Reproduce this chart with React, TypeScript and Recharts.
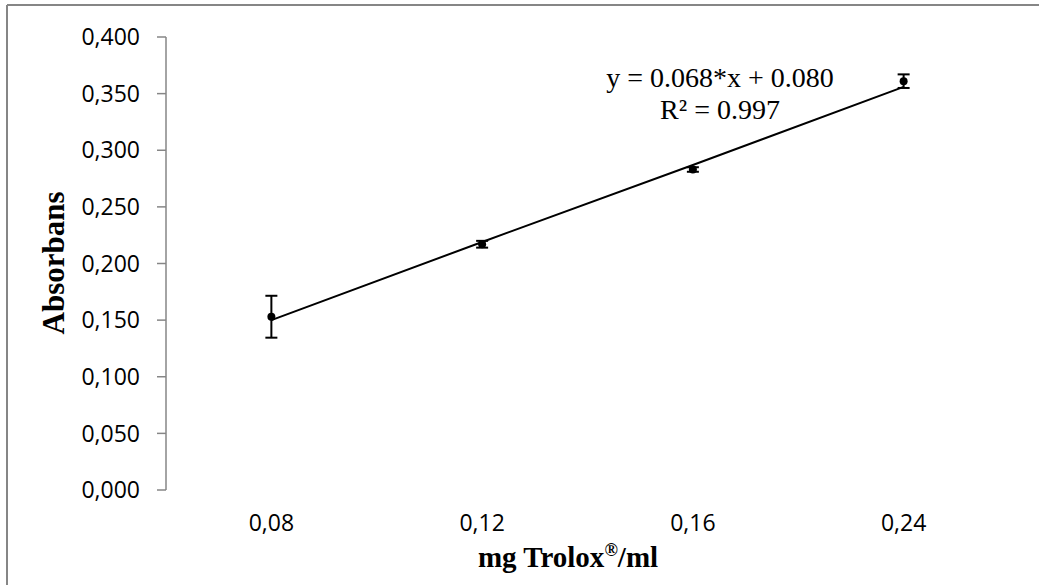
import React from "react";
import {
  ComposedChart,
  Line,
  Scatter,
  XAxis,
  YAxis,
  ErrorBar,
  Customized,
} from "recharts";

// values
const categories = ["0,08", "0,12", "0,16", "0,24"];
const absorbance = [0.153, 0.217, 0.283, 0.361];
const errors = [0.0185, 0.003, 0.002, 0.006];
const trend = [0.15, 0.219, 0.287, 0.356];
const yTicks = [0, 0.05, 0.1, 0.15, 0.2, 0.25, 0.3, 0.35, 0.4];
const equation = "y = 0.068*x + 0.080";
const rSquared = "R² = 0.997";

const AXIS = "#868686";
const SERIF = "'Liberation Serif', 'Times New Roman', serif";
const SANS = "'Open Sans', 'Noto Sans', sans-serif";

// category i sits in the middle of its band, bands are 0..4
const data = categories.map((cat, i) => ({
  pos: i + 0.5,
  cat,
  y: absorbance[i],
  err: errors[i],
  trend: trend[i],
}));

const Overlay = () => (
  <g>
    {/* frame of the chart area */}
    <line x1={7} y1={5} x2={1039} y2={5} stroke={AXIS} strokeWidth={2} />
    <line x1={7} y1={5} x2={7} y2={585} stroke={AXIS} strokeWidth={2} />
    <text x={720} y={87} textAnchor="middle" fontFamily={SERIF} fontSize={28} fill="#000">
      {equation}
    </text>
    <text x={720} y={119} textAnchor="middle" fontFamily={SERIF} fontSize={28} fill="#000">
      {rSquared}
    </text>
    <text
      transform="translate(64, 263) rotate(-90)"
      textAnchor="middle"
      fontFamily={SERIF}
      fontSize={31}
      fontWeight="bold"
      fill="#000"
    >
      Absorbans
    </text>
    <text x={568} y={567} textAnchor="middle" fontFamily={SERIF} fontSize={29} fontWeight="bold" fill="#000">
      mg Trolox
      <tspan fontSize={18} dy={-11}>®</tspan>
      <tspan dy={11}>/ml</tspan>
    </text>
  </g>
);

const Dot = (props: any) => <circle cx={props.cx} cy={props.cy} r={4} fill="#000" />;

export default function App() {
  return (
    <div style={{ position: "absolute", left: 0, top: 0, background: "#fff" }}>
      <ComposedChart
        width={1039}
        height={585}
        data={data}
        margin={{ top: 37, right: 30, left: 0, bottom: 0 }}
      >
        <XAxis
          xAxisId="marks"
          type="number"
          dataKey="pos"
          domain={[0, 4]}
          ticks={[0, 1, 2, 3, 4]}
          tickFormatter={() => ""}
          height={0}
          tickSize={9}
          axisLine={{ stroke: AXIS, strokeWidth: 1.5 }}
          tickLine={{ stroke: AXIS, strokeWidth: 1.5 }}
        />
        <XAxis
          xAxisId="labels"
          type="number"
          dataKey="pos"
          domain={[0, 4]}
          ticks={data.map((d) => d.pos)}
          tickFormatter={(v: number) => categories[Math.floor(v)]}
          axisLine={false}
          tickLine={false}
          tickSize={0}
          tickMargin={25}
          height={95}
          tick={{ fill: "#000", fontSize: 23, fontFamily: SANS }}
        />
        <YAxis
          type="number"
          domain={[0, 0.4]}
          ticks={yTicks}
          tickFormatter={(v: number) => v.toFixed(3).replace(".", ",")}
          width={166}
          tickSize={9}
          tickMargin={17}
          axisLine={{ stroke: AXIS, strokeWidth: 1.5 }}
          tickLine={{ stroke: AXIS, strokeWidth: 1.5 }}
          tick={{ fill: "#000", fontSize: 23, fontFamily: SANS }}
        />
        <Line
          xAxisId="labels"
          type="linear"
          dataKey="trend"
          stroke="#000"
          strokeWidth={2}
          dot={false}
          isAnimationActive={false}
        />
        <Scatter xAxisId="labels" dataKey="y" shape={Dot} isAnimationActive={false}>
          <ErrorBar dataKey="err" direction="y" width={6} stroke="#000" strokeWidth={2} />
        </Scatter>
        <Customized component={Overlay} />
      </ComposedChart>
    </div>
  );
}
